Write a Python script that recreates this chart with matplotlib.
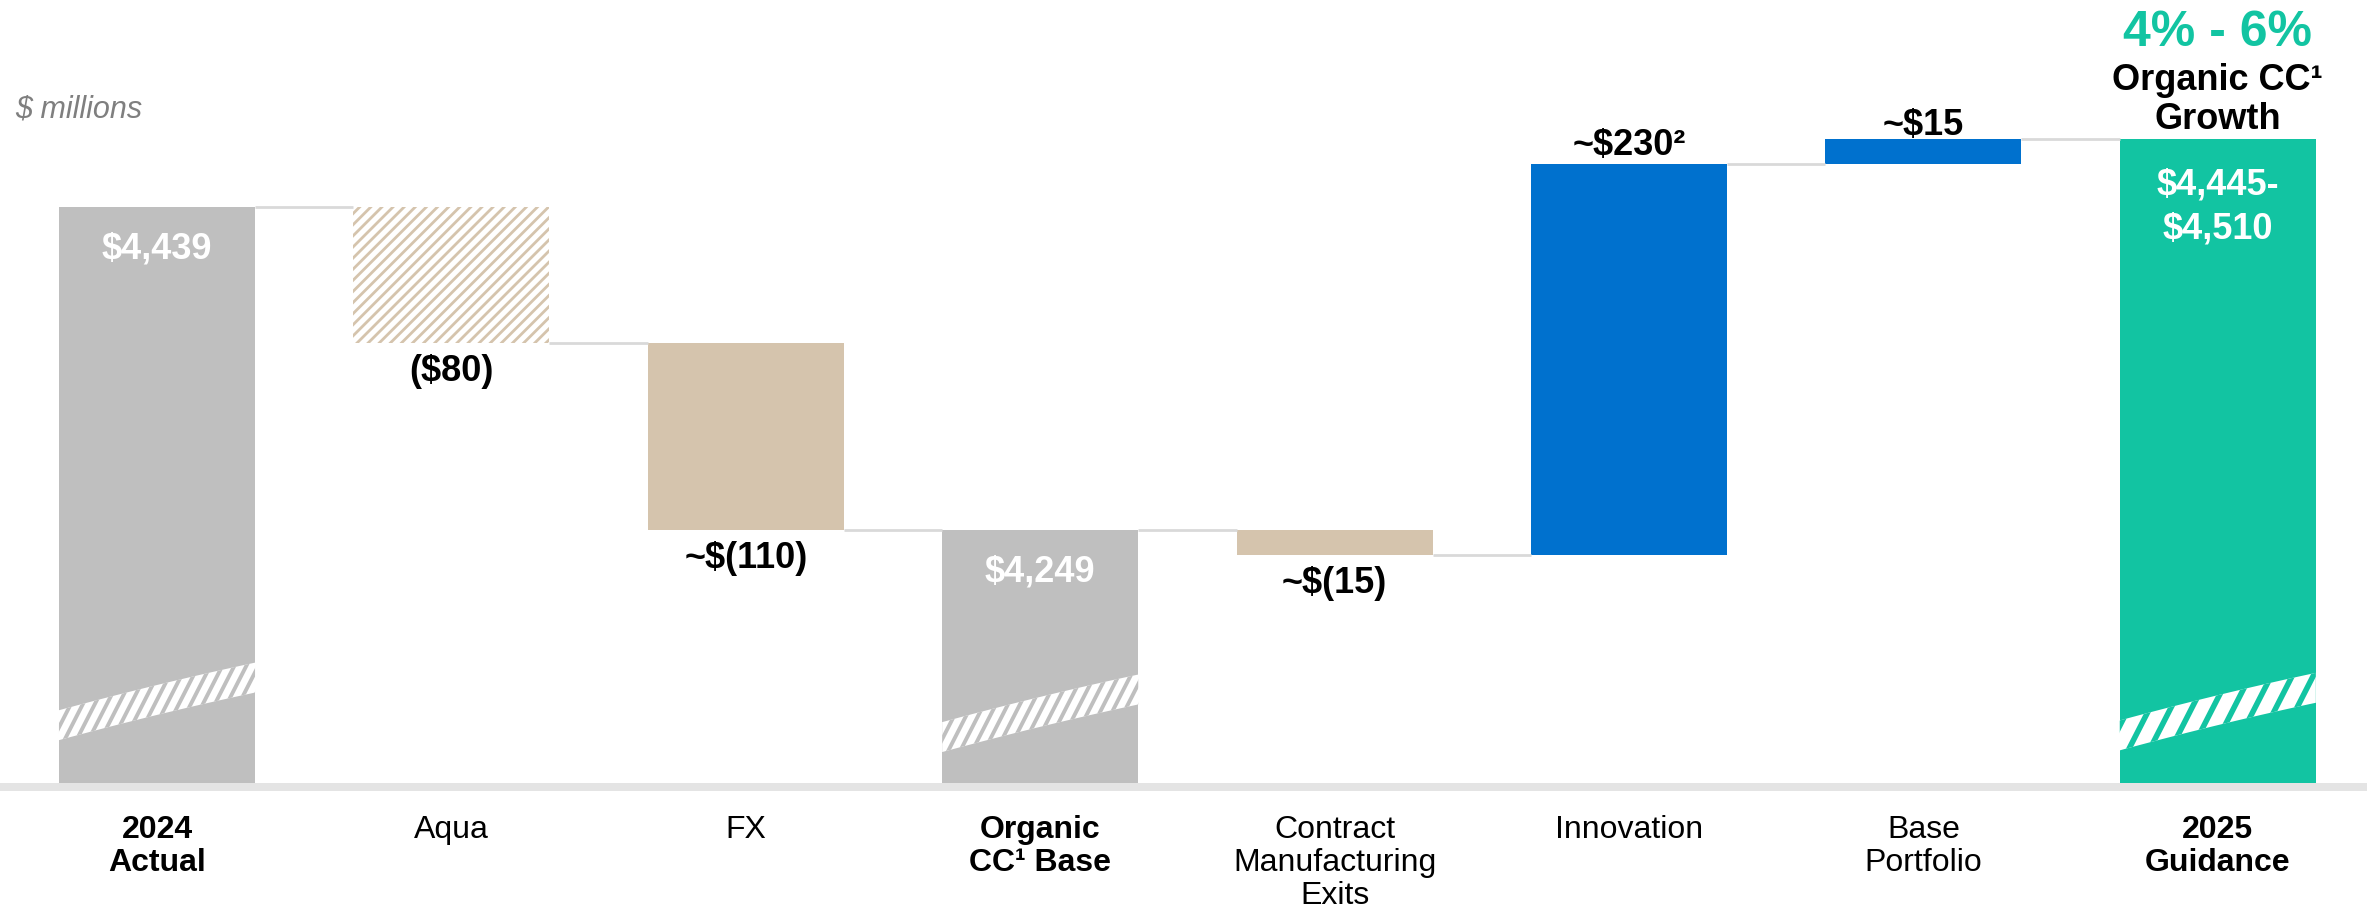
import matplotlib
matplotlib.use("Agg")
import matplotlib.pyplot as plt
import numpy as np
from matplotlib.patches import Polygon

plt.rcParams['font.family'] = ['Liberation Sans', 'DejaVu Sans']

# chart data
categories = ["2024\nActual", "Aqua", "FX", "Organic\nCC¹ Base",
              "Contract\nManufacturing\nExits", "Innovation", "Base\nPortfolio",
              "2025\nGuidance"]
bold_category = [True, False, False, True, False, False, False, True]
bar_kind = ["total", "delta", "delta", "total", "delta", "delta", "delta", "total"]
bar_change = [4439, -80, -110, 0, -15, 230, 15, 0]
value_labels = [r"\$4,439", r"(\$80)", r"~\$(110)", r"\$4,249", r"~\$(15)",
                r"~\$230²", r"~\$15", "\\$4,445-\n\\$4,510"]
growth_text = "4% - 6%"
growth_caption = ["Organic CC¹", "Growth"]
unit_text = "$ millions"
axis_floor = 4100   # value where the broken axis starts

# colours
GRAY = "#bfbfbf"
TAN = "#d5c4ad"
BLUE = "#0071ce"
TEAL = "#12c4a2"
bar_colors = [GRAY, TAN, TAN, GRAY, TAN, BLUE, BLUE, TEAL]
bar_hatched = [False, True, False, False, False, False, False, False]

# running totals -> bottoms / tops
bottoms, tops = [], []
level = 0
for kind, chg in zip(bar_kind, bar_change):
    if kind == "total":
        if chg:
            level = chg
        bottoms.append(axis_floor)
        tops.append(level)
    else:
        new = level + chg
        bottoms.append(min(level, new))
        tops.append(max(level, new))
        level = new

px_per_unit = 1.70
W, H = 2367, 906
fig = plt.figure(figsize=(W / 100, H / 100), dpi=100)
ax_bottom_px = 791
ax = fig.add_axes([0, 1 - ax_bottom_px / H, 1, ax_bottom_px / H])
ax.set_axis_off()
ylow = axis_floor - 8 / px_per_unit
ax.set_ylim(ylow, axis_floor + 783 / px_per_unit)
step = 294.4
ax.set_xlim(-157 / step, (W - 157) / step)

x = np.arange(len(categories))
width = 0.666

# grey floor band
ax.axhspan(ylow, axis_floor, color="#e4e4e4", lw=0)

for i in range(len(x)):
    if bar_hatched[i]:
        with plt.rc_context({'hatch.linewidth': 2.0}):
            ax.bar(x[i], tops[i] - bottoms[i], bottom=bottoms[i], width=width,
                   facecolor="white", edgecolor=TAN, hatch="///", lw=0)
    else:
        ax.bar(x[i], tops[i] - bottoms[i], bottom=bottoms[i], width=width,
               color=bar_colors[i], lw=0)

# connectors
levels = []
for i in range(len(x)):
    if bar_kind[i] == "total":
        levels.append(tops[i])
    else:
        levels.append(bottoms[i] if bar_change[i] < 0 else tops[i])
for i in range(len(x) - 1):
    ax.plot([x[i] + width / 2, x[i + 1] - width / 2], [levels[i], levels[i]],
            color="#d9d9d9", lw=2, solid_capstyle="butt", zorder=1)

# axis-break marks on the total bars: white band with diagonal stripes
# (per total bar: band lift above floor, stripe period in px, stripe width)
break_lift = {0: 34, 3: 27, 7: 28}
break_period = {0: 12, 3: 12, 7: 21}
break_lw = {0: 2.8, 3: 2.8, 7: 4.0}
t = np.linspace(0, 1, 40)
stripe_run = (1 / 1.96) / step * px_per_unit   # x shift per value unit (~63 deg)
for i in range(len(x)):
    if bar_kind[i] != "total":
        continue
    xs = x[i] - width / 2 + t * width
    mid = axis_floor + break_lift[i] + 28 * (t + 0.12 * t * (1 - t))
    band_top = mid + 8.8
    band_bot = mid - 8.8
    poly = np.column_stack([np.r_[xs, xs[::-1]], np.r_[band_top, band_bot[::-1]]])
    band = Polygon(poly, closed=True, facecolor="white", lw=0, zorder=3)
    ax.add_patch(band)
    y0, y1 = band_bot.min() - 5, band_top.max() + 5
    for x0 in np.arange(xs[0] - 0.2, xs[-1] + 0.05, break_period[i] / step):
        ln, = ax.plot([x0, x0 + (y1 - y0) * stripe_run], [y0, y1],
                      color=bar_colors[i], lw=break_lw[i], zorder=3.5)
        ln.set_clip_path(band)

# value labels
for i in range(len(x)):
    if bar_kind[i] == "total":
        off = -21 if "\n" in value_labels[i] else -18
        ax.annotate(value_labels[i], (x[i], tops[i]), xytext=(0, off),
                    textcoords="offset points", ha="center", va="top",
                    color="white", fontsize=26, fontweight="bold",
                    linespacing=1.33, zorder=4)
    elif bar_change[i] < 0:
        ax.annotate(value_labels[i], (x[i], bottoms[i]), xytext=(0, -8),
                    textcoords="offset points", ha="center", va="top",
                    color="black", fontsize=26, fontweight="bold")
    else:
        off = 1 if bar_change[i] > 100 else -3
        ax.annotate(value_labels[i], (x[i], tops[i]), xytext=(0, off),
                    textcoords="offset points", ha="center", va="bottom",
                    color="black", fontsize=26, fontweight="bold")

# growth callout above guidance bar
gx = x[-1]
ax.annotate(growth_text, (gx, tops[-1]), xytext=(0, 67), textcoords="offset points",
            ha="center", va="baseline", color=TEAL, fontsize=36, fontweight="bold")
ax.annotate(growth_caption[0], (gx, tops[-1]), xytext=(0, 35), textcoords="offset points",
            ha="center", va="baseline", color="black", fontsize=26, fontweight="bold")
ax.annotate(growth_caption[1], (gx, tops[-1]), xytext=(0, 7), textcoords="offset points",
            ha="center", va="baseline", color="black", fontsize=26, fontweight="bold")

# category labels
for i, lab in enumerate(categories):
    ax.annotate(lab, (x[i], ylow), xytext=(0, -17), textcoords="offset points",
                ha="center", va="top", fontsize=23, linespacing=1.14,
                fontweight="bold" if bold_category[i] else "normal",
                annotation_clip=False)

fig.text(15 / W, 1 - 110 / H, unit_text, fontsize=22, style="italic",
         color="#7f7f7f", va="center", ha="left")

fig.savefig("out.png", dpi=100)
